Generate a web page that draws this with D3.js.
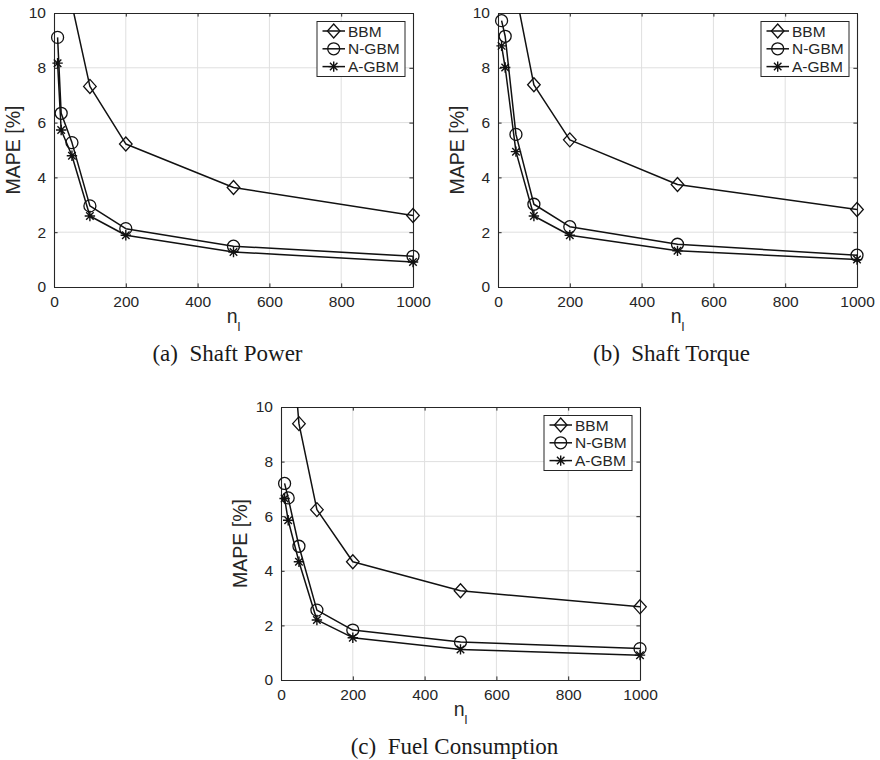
<!DOCTYPE html>
<html>
<head>
<meta charset="utf-8">
<script src="https://cdn.jsdelivr.net/npm/d3@7"></script>
<style>
  html, body { margin: 0; padding: 0; background: #ffffff; }
  svg { display: block; }
</style>
</head>
<body>
<svg id="chart" width="880" height="760"></svg>
<script>
// ---------------- data ----------------
const xValues = [10, 20, 50, 100, 200, 500, 1000];
const seriesNames = ["BBM", "N-GBM", "A-GBM"];
const xTicks = [0, 200, 400, 600, 800, 1000];
const yTicks = [0, 2, 4, 6, 8, 10];
const xTickLabels = ["0", "200", "400", "600", "800", "1000"];
const yTickLabels = ["0", "2", "4", "6", "8", "10"];
const captions = ["(a)  Shaft Power", "(b)  Shaft Torque", "(c)  Fuel Consumption"];

// (a) Shaft Power
const powerBBM  = [14.5, 12.5, 10.3, 7.32, 5.22, 3.63, 2.61];
const powerNGBM = [9.11, 6.34, 5.27, 2.96, 2.13, 1.49, 1.12];
const powerAGBM = [8.17, 5.73, 4.79, 2.59, 1.89, 1.28, 0.91];
// (b) Shaft Torque
const torqueBBM  = [15.0, 13.0, 10.7, 7.38, 5.37, 3.74, 2.83];
const torqueNGBM = [9.72, 9.15, 5.57, 3.02, 2.20, 1.56, 1.16];
const torqueAGBM = [8.80, 8.01, 4.94, 2.59, 1.89, 1.32, 1.00];
// (c) Fuel Consumption
const fuelBBM  = [17.0, 14.2, 9.39, 6.24, 4.33, 3.27, 2.68];
const fuelNGBM = [7.20, 6.67, 4.90, 2.56, 1.83, 1.39, 1.15];
const fuelAGBM = [6.65, 5.85, 4.33, 2.20, 1.55, 1.12, 0.91];

// ---------------- layout ----------------
const panels = [
  { left: 54,  top: 13,  w: 359, h: 274, caption: captions[0], series: [powerBBM, powerNGBM, powerAGBM] },
  { left: 498, top: 13,  w: 359, h: 274, caption: captions[1], series: [torqueBBM, torqueNGBM, torqueAGBM] },
  { left: 281, top: 407, w: 359, h: 273, caption: captions[2], series: [fuelBBM, fuelNGBM, fuelAGBM] }
];
const markerTypes = ["diamond", "circle", "star"];
const sans = "'Liberation Sans', Arial, Helvetica, sans-serif";
const serif = "'Liberation Serif', 'Times New Roman', serif";
const axisColor = "#262626";
const gridColor = "#dfdfdf";
const lineColor = "#111111";

const svg = d3.select("#chart");

function drawMarker(g, type, x, y) {
  if (type === "diamond") {
    g.append("path")
      .attr("d", `M${x},${y - 7}L${x + 6.3},${y}L${x},${y + 7}L${x - 6.3},${y}Z`)
      .attr("fill", "none").attr("stroke", lineColor).attr("stroke-width", 1.3);
  } else if (type === "circle") {
    g.append("circle").attr("cx", x).attr("cy", y).attr("r", 6)
      .attr("fill", "none").attr("stroke", lineColor).attr("stroke-width", 1.3);
  } else {
    const r = 5.2, d = r * 0.72;
    const p = `M${x - r},${y}L${x + r},${y}M${x},${y - r}L${x},${y + r}` +
              `M${x - d},${y - d}L${x + d},${y + d}M${x - d},${y + d}L${x + d},${y - d}`;
    g.append("path").attr("d", p).attr("fill", "none")
      .attr("stroke", lineColor).attr("stroke-width", 1.4);
  }
}

panels.forEach((p, pi) => {
  const x = d3.scaleLinear().domain([0, 1000]).range([p.left, p.left + p.w]);
  const y = d3.scaleLinear().domain([0, 10]).range([p.top + p.h, p.top]);
  const g = svg.append("g");

  const clipId = "clip" + pi;
  svg.append("clipPath").attr("id", clipId)
    .append("rect").attr("x", p.left).attr("y", p.top).attr("width", p.w).attr("height", p.h);

  // grid
  g.append("g").selectAll("line").data(xTicks.slice(1, -1)).join("line")
    .attr("x1", d => x(d)).attr("x2", d => x(d))
    .attr("y1", p.top).attr("y2", p.top + p.h)
    .attr("stroke", gridColor).attr("stroke-width", 1);
  g.append("g").selectAll("line").data(yTicks.slice(1, -1)).join("line")
    .attr("y1", d => y(d)).attr("y2", d => y(d))
    .attr("x1", p.left).attr("x2", p.left + p.w)
    .attr("stroke", gridColor).attr("stroke-width", 1);

  // axes (bottom/left with labels, top/right mirrored ticks)
  const tickLen = 3.6;
  const xAxis = d3.axisBottom(x).tickValues(xTicks).tickFormat((d, i) => xTickLabels[i])
    .tickSizeInner(-tickLen).tickSizeOuter(0).tickPadding(9);
  const yAxis = d3.axisLeft(y).tickValues(yTicks).tickFormat((d, i) => yTickLabels[i])
    .tickSizeInner(-tickLen).tickSizeOuter(0).tickPadding(9);
  const xAxisTop = d3.axisTop(x).tickValues(xTicks).tickFormat("").tickSizeInner(-tickLen).tickSizeOuter(0);
  const yAxisRight = d3.axisRight(y).tickValues(yTicks).tickFormat("").tickSizeInner(-tickLen).tickSizeOuter(0);

  const axes = [
    g.append("g").attr("transform", `translate(0,${p.top + p.h})`).call(xAxis),
    g.append("g").attr("transform", `translate(${p.left},0)`).call(yAxis),
    g.append("g").attr("transform", `translate(0,${p.top})`).call(xAxisTop),
    g.append("g").attr("transform", `translate(${p.left + p.w},0)`).call(yAxisRight)
  ];
  axes.forEach(a => {
    a.selectAll("path.domain").attr("stroke", axisColor).attr("stroke-width", 1.1);
    a.selectAll(".tick line").attr("stroke", axisColor).attr("stroke-width", 1);
    a.selectAll(".tick text").attr("fill", axisColor)
      .style("font-family", sans).style("font-size", "15.5px");
  });
  axes[0].selectAll(".tick text").attr("dy", "0.72em");
  axes[1].selectAll(".tick text").attr("dx", "1px");

  // data: lines clipped to the axes box, markers drawn whole
  const plot = g.append("g").attr("clip-path", `url(#${clipId})`);
  const marks = g.append("g");
  const line = d3.line().x((d, i) => x(xValues[i])).y(d => y(d));
  p.series.forEach((vals, si) => {
    plot.append("path").datum(vals).attr("d", line)
      .attr("fill", "none").attr("stroke", lineColor).attr("stroke-width", 1.5)
      .attr("stroke-linejoin", "round");
    vals.forEach((v, i) => {
      if (v <= 10) drawMarker(marks, markerTypes[si], x(xValues[i]), y(v));
    });
  });

  // axis labels
  const ylx = p.left - 41, yly = p.top + p.h / 2;
  g.append("text")
    .attr("transform", `translate(${ylx},${yly}) rotate(-90)`)
    .attr("text-anchor", "middle").attr("dy", "0.36em")
    .attr("fill", axisColor)
    .style("font-family", sans).style("font-size", "19.5px")
    .text("MAPE [%]");

  const xl = g.append("text")
    .attr("x", p.left + p.w / 2).attr("y", p.top + p.h + 36)
    .attr("text-anchor", "middle").attr("fill", axisColor)
    .style("font-family", sans).style("font-size", "19.5px");
  xl.append("tspan").text("n");
  xl.append("tspan").attr("dy", 8).style("font-size", "13px").text("l");

  // legend
  const lgW = 88, lgH = 55;
  const lgX = p.left + p.w - 8 - lgW, lgY = p.top + 8.5;
  const lg = g.append("g");
  lg.append("rect").attr("x", lgX).attr("y", lgY).attr("width", lgW).attr("height", lgH)
    .attr("fill", "#ffffff").attr("stroke", axisColor).attr("stroke-width", 1);
  seriesNames.forEach((name, si) => {
    const cy = lgY + 9.5 + si * 17.8;
    lg.append("line").attr("x1", lgX + 5.5).attr("x2", lgX + 28)
      .attr("y1", cy).attr("y2", cy).attr("stroke", lineColor).attr("stroke-width", 1.5);
    drawMarker(lg, markerTypes[si], lgX + 16.7, cy);
    lg.append("text").attr("x", lgX + 31).attr("y", cy).attr("dy", "0.36em")
      .attr("fill", axisColor)
      .style("font-family", sans).style("font-size", "15.5px")
      .text(name);
  });

  // caption
  g.append("text")
    .attr("x", p.left + p.w / 2 - 6).attr("y", p.top + p.h + 74)
    .attr("text-anchor", "middle").attr("fill", "#1a1a1a")
    .style("font-family", serif).style("font-size", "23px")
    .style("white-space", "pre").attr("xml:space", "preserve")
    .text(p.caption);
});
</script>
</body>
</html>
